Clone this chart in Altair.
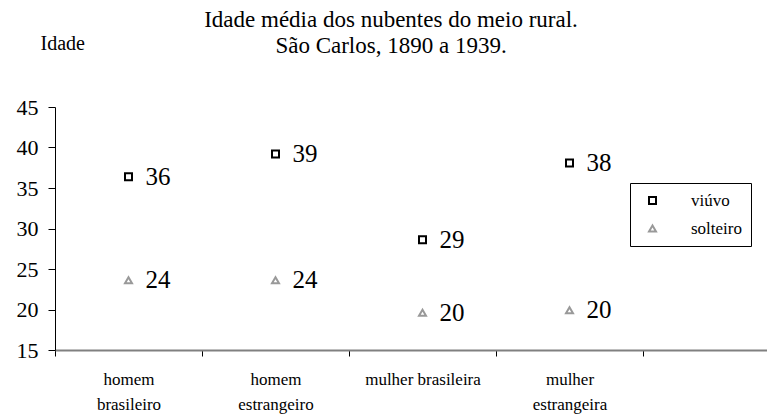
import altair as alt
import pandas as pd

categories = ["homem brasileiro", "homem estrangeiro", "mulher brasileira", "mulher estrangeira"]
series = ["viúvo", "solteiro"]
viuvo = [36.4, 39.2, 28.6, 38.1]
solteiro = [23.6, 23.6, 19.6, 19.9]
y_ticks = [15, 20, 25, 30, 35, 40, 45]
title_lines = ["Idade média dos nubentes do meio rural.", "São Carlos, 1890 a 1939."]

rows = []
for s, vals in zip(series, [viuvo, solteiro]):
    for c, v in zip(categories, vals):
        rows.append({"categoria": c, "serie": s, "idade": v})
df = pd.DataFrame(rows)

FONT = "Liberation Serif"
W, H = 712, 243
step = 147
pad_outer = (W - 4 * step) / (2 * step)

x = alt.X(
    "categoria:N",
    sort=categories,
    scale=alt.Scale(type="band", domain=categories, paddingInner=0, paddingOuter=pad_outer, align=0),
    axis=alt.Axis(
        title=None, tickBand="extent", labelAngle=0,
        domainColor="#808080", domainWidth=2, tickColor="black", tickSize=6,
        labelFontSize=17, labelPadding=15, labelLineHeight=25, labelBaseline="top",
        labelExpr="datum.label == 'mulher brasileira' ? datum.label : split(datum.label, ' ')",
    ),
)
y = alt.Y(
    "idade:Q",
    scale=alt.Scale(domain=[15, 45], nice=False, zero=False),
    axis=alt.Axis(
        values=y_ticks, title="Idade", titleAngle=0, titleX=-15, titleY=-64,
        titleAlign="left", titleBaseline="middle", titleFontSize=20, titleFontWeight="normal",
        labelFontSize=22, tickSize=7, labelPadding=10, domainColor="black", tickColor="black",
        grid=False,
    ),
)

leg = alt.Legend(
    title=None, orient="none", legendX=575, legendY=76, strokeColor="black",
    fillColor="white", padding=9, labelFont=FONT, labelFontSize=17, labelColor="black",
    labelOffset=30, rowPadding=10, symbolStrokeWidth=2, symbolSize=49, symbolOffset=5,
)

points = alt.Chart(df).mark_point(filled=False, strokeWidth=2, size=49, opacity=1).encode(
    x=x,
    y=y,
    shape=alt.Shape("serie:N", sort=series,
                    scale=alt.Scale(domain=series, range=["square", "triangle-up"]), legend=leg),
    color=alt.Color("serie:N", sort=series,
                    scale=alt.Scale(domain=series, range=["black", "#999999"]), legend=leg),
)

labels = alt.Chart(df).mark_text(
    align="left", baseline="middle", dx=17, fontSize=25, font=FONT, color="black"
).encode(x=x, y=y, text=alt.Text("idade:Q", format=".0f"))

chart = (
    alt.layer(points, labels)
    .properties(
        width=W,
        height=H,
        title=alt.Title(title_lines, font=FONT, fontSize=23, fontWeight="normal", color="black",
                        anchor="middle", frame="group", lineHeight=26, offset=0, dy=25, dx=-20),
        autosize=alt.AutoSizeParams(type="none"),
        padding={"left": 47, "top": 99, "right": 0, "bottom": 66},
    )
    .configure_view(stroke=None)
    .configure_axis(labelFont=FONT, titleFont=FONT, labelColor="black", titleColor="black")
)

chart.save("out.html", embed_options={"renderer": "svg", "actions": False})
